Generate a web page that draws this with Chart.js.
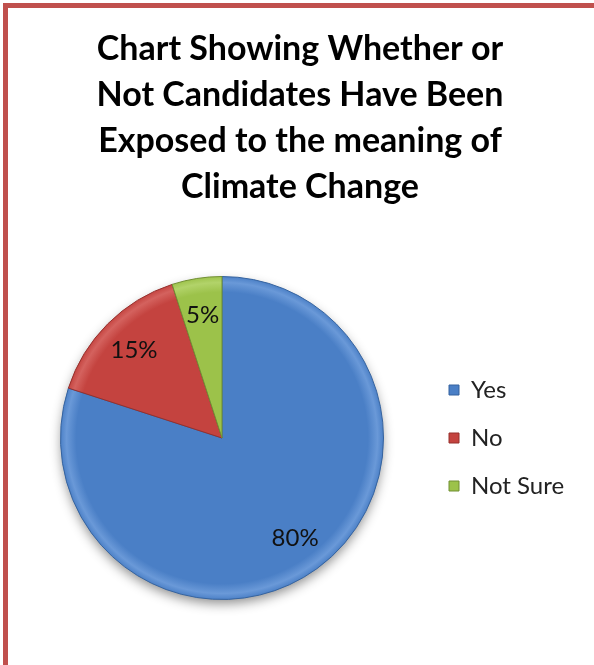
<!DOCTYPE html>
<html>
<head>
<meta charset="utf-8">
<script src="https://cdn.jsdelivr.net/npm/chart.js@4.4.1/dist/chart.umd.min.js"></script>
<style>
    html, body { margin: 0; padding: 0; background: #fff; }
    #wrap { position: relative; width: 594px; height: 665px; overflow: hidden; }
    #frame {
        position: absolute; left: 3px; top: 3px; right: 0; bottom: 0;
        border-left: 5px solid #C0504D; border-top: 5px solid #C0504D;
    }
    #chart { position: absolute; left: 0; top: 0; }
</style>
</head>
<body>
<div id="wrap">
    <div id="frame"></div>
    <canvas id="chart" width="594" height="665"></canvas>
</div>
<script>
// ---- data ----
const titleLines = ['Chart Showing Whether or', 'Not Candidates Have Been', 'Exposed to the meaning of', 'Climate Change'];
const categories = ['Yes', 'No', 'Not Sure'];
const percentages = [80, 15, 5];

// ---- styles ----
const sliceColors = ['#4A7FC6', '#C4433F', '#9CC24A'];
const sliceLight = ['#6A99D8', '#D4625E', '#B2D36A'];
const sliceEdges = ['#35639F', '#96302D', '#718F33'];
const FONT = 'Lato, Calibri, Carlito, "Open Sans", sans-serif';

// legend gets a fixed width so the pie and the title sit where they should
const legendFit = {
    id: 'legendFit',
    beforeLayout(chart) {
        const lg = chart.legend;
        if (lg && !lg._fixed) {
            const fit = lg.fit;
            lg.fit = function () { fit.call(this); this.width = 156; };
            lg._fixed = true;
        }
    }
};

// soft shadow under the pie
const pieShadow = {
    id: 'pieShadow',
    beforeDatasetsDraw(chart) {
        const arc = chart.getDatasetMeta(0).data[0];
        if (!arc) return;
        const ctx = chart.ctx;
        ctx.save();
        ctx.shadowColor = 'rgba(0,0,0,0.45)';
        ctx.shadowBlur = 12;
        ctx.shadowOffsetY = 5;
        ctx.fillStyle = sliceColors[0];
        ctx.beginPath();
        ctx.arc(arc.x, arc.y, arc.outerRadius - 1, 0, Math.PI * 2);
        ctx.fill();
        ctx.restore();
    }
};

// percentage labels inside the slices
const sliceLabels = {
    id: 'sliceLabels',
    afterDatasetsDraw(chart) {
        const ctx = chart.ctx;
        const meta = chart.getDatasetMeta(0);
        ctx.save();
        ctx.font = '24px ' + FONT;
        ctx.fillStyle = '#111';
        ctx.textAlign = 'center';
        ctx.textBaseline = 'middle';
        meta.data.forEach((arc, i) => {
            const mid = (arc.startAngle + arc.endAngle) / 2;
            const r = arc.outerRadius * 0.77;
            ctx.fillText(percentages[i] + '%', arc.x + Math.cos(mid) * r, arc.y + Math.sin(mid) * r);
        });
        ctx.restore();
    }
};

// bevel-ish fill: flat colour with a lighter rim near the edge
function sliceFill(context) {
    const i = context.dataIndex;
    const area = context.chart.chartArea;
    if (!area) return sliceColors[i];
    const cx = (area.left + area.right) / 2;
    const cy = (area.top + area.bottom) / 2;
    const r = Math.min(area.right - area.left, area.bottom - area.top) / 2;
    const g = context.chart.ctx.createRadialGradient(cx, cy, 0, cx, cy, r);
    g.addColorStop(0, sliceColors[i]);
    g.addColorStop(0.9, sliceColors[i]);
    g.addColorStop(0.96, sliceLight[i]);
    g.addColorStop(1, sliceColors[i]);
    return g;
}

new Chart(document.getElementById('chart').getContext('2d'), {
    type: 'pie',
    data: {
        labels: categories,
        datasets: [{
            data: percentages,
            backgroundColor: sliceFill,
            borderColor: sliceEdges,
            borderWidth: 1
        }]
    },
    options: {
        responsive: false,
        animation: false,
        layout: { padding: { left: 19, right: 13, top: 0, bottom: 65 } },
        plugins: {
            tooltip: { enabled: false },
            title: {
                display: true,
                text: titleLines,
                color: '#000',
                font: { family: FONT, size: 34, weight: 'bold', lineHeight: '46px' },
                padding: { top: 26, bottom: 66 }
            },
            legend: {
                position: 'right',
                align: 'center',
                fullSize: false,
                labels: {
                    boxWidth: 10,
                    boxHeight: 10,
                    padding: 24,
                    color: '#222',
                    font: { family: FONT, size: 24 },
                    generateLabels(chart) {
                        return categories.map((c, i) => ({
                            text: c,
                            fillStyle: sliceColors[i],
                            strokeStyle: sliceEdges[i],
                            lineWidth: 1,
                            fontColor: '#222',
                            index: i,
                            datasetIndex: 0
                        }));
                    }
                }
            }
        }
    },
    plugins: [legendFit, pieShadow, sliceLabels]
});
</script>
</body>
</html>
